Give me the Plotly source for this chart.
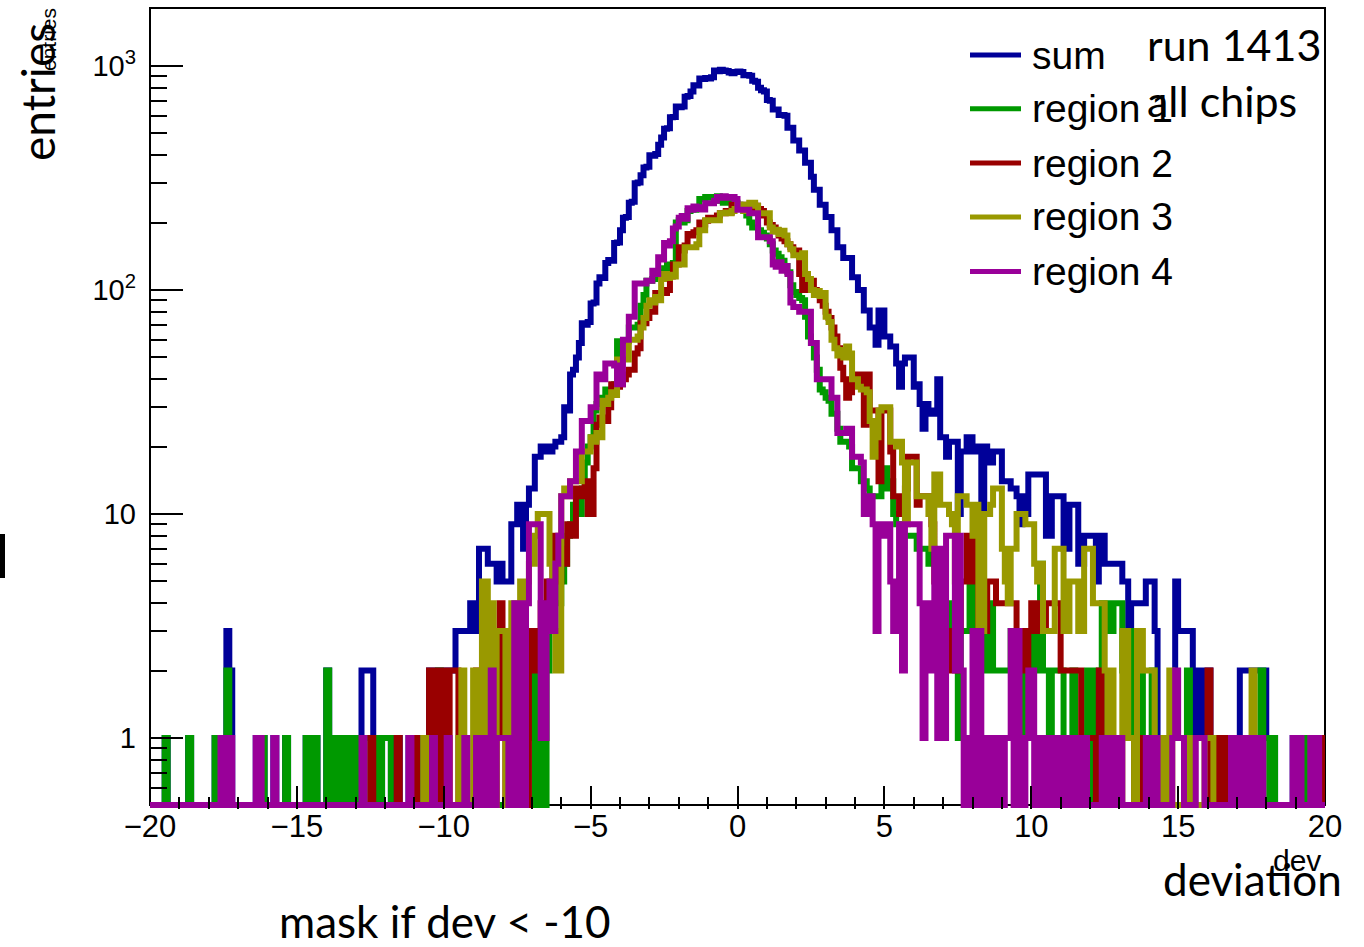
import plotly.graph_objects as go

# ---- binning: 400 bins of width 0.1 between -20 and 20 ----
X_MIN, X_MAX, N_BINS = -20.0, 20.0, 400
bin_edges = [round(X_MIN + (X_MAX - X_MIN) * k / N_BINS, 4) for k in range(N_BINS + 1)]

# ---- bin contents (entries per bin), left to right ----
sum_counts = [
    0, 0, 0, 0, 0, 1, 0, 0, 0, 0,
    0, 0, 0, 1, 0, 0, 0, 0, 0, 0,
    0, 0, 1, 0, 1, 0, 3, 2, 0, 0,
    0, 0, 0, 0, 0, 0, 1, 1, 1, 0,
    0, 0, 1, 0, 0, 0, 1, 0, 0, 0,
    0, 0, 0, 1, 0, 1, 1, 0, 0, 0,
    2, 0, 1, 0, 1, 1, 0, 1, 0, 1,
    1, 0, 2, 2, 2, 2, 1, 1, 0, 1,
    1, 1, 0, 0, 1, 0, 0, 0, 1, 1,
    1, 0, 0, 1, 0, 2, 2, 2, 2, 2,
    2, 2, 2, 2, 3, 3, 3, 3, 3, 4,
    3, 3, 7, 7, 7, 6, 6, 6, 5, 6,
    5, 5, 5, 9, 9, 11, 11, 7, 11, 13,
    13, 18, 18, 20, 20, 19, 19, 20, 21, 21,
    22, 30, 29, 42, 44, 50, 58, 71, 70, 72,
    87, 88, 107, 114, 113, 132, 136, 135, 162, 163,
    185, 210, 212, 245, 248, 300, 302, 325, 352, 355,
    400, 398, 405, 445, 480, 525, 528, 590, 592, 660,
    655, 660, 730, 735, 770, 820, 818, 880, 875, 885,
    880, 890, 955, 948, 962, 956, 950, 935, 928, 940,
    945, 940, 910, 912, 905, 860, 850, 800, 780, 770,
    705, 700, 640, 640, 605, 605, 600, 530, 530, 465,
    465, 420, 420, 370, 370, 320, 280, 280, 240, 240,
    212, 212, 185, 185, 155, 155, 139, 139, 139, 114,
    114, 100, 100, 81, 81, 68, 68, 57, 81, 81,
    62, 62, 56, 56, 47, 37, 47, 50, 50, 50,
    37, 38, 31, 24, 31, 28, 28, 29, 40, 22,
    22, 18, 21, 21, 21, 10, 19, 19, 22, 22,
    19, 19, 20, 10, 20, 17, 17, 19, 19, 19,
    14, 14, 14, 13, 13, 12, 9, 12, 10, 15,
    15, 15, 15, 15, 15, 8, 8, 12, 12, 12,
    12, 7, 7, 11, 11, 11, 6, 6, 8, 8,
    8, 8, 5, 8, 8, 6, 6, 6, 6, 6,
    6, 5, 5, 3, 4, 4, 4, 4, 4, 5,
    5, 5, 3, 1, 1, 1, 1, 1, 1, 5,
    3, 3, 3, 3, 3, 1, 1, 2, 1, 1,
    2, 1, 1, 1, 1, 1, 1, 1, 1, 1,
    1, 2, 2, 2, 2, 2, 2, 2, 2, 2,
    1, 1, 1, 0, 0, 0, 0, 0, 0, 1,
    1, 1, 0, 1, 0, 1, 1, 1, 0, 1,
]

region1_counts = [
    0, 0, 0, 0, 0, 1, 0, 0, 0, 0,
    0, 0, 0, 1, 0, 0, 0, 0, 0, 0,
    0, 0, 1, 0, 0, 0, 2, 0, 0, 0,
    0, 0, 0, 0, 0, 0, 0, 0, 1, 0,
    0, 0, 0, 0, 0, 0, 1, 0, 0, 0,
    0, 0, 0, 1, 0, 1, 1, 0, 0, 0,
    2, 0, 1, 0, 1, 1, 0, 1, 0, 1,
    1, 0, 1, 1, 1, 0, 1, 1, 0, 1,
    1, 1, 0, 0, 0, 0, 0, 0, 0, 0,
    0, 0, 0, 0, 0, 0, 0, 1, 2, 0,
    0, 0, 0, 0, 0, 0, 0, 0, 0, 0,
    0, 0, 0, 0, 0, 0, 0, 0, 0, 0,
    0, 0, 0, 1, 0, 0, 1, 0, 1, 1,
    2, 0, 2, 1, 0, 2, 3, 3, 4, 4,
    5, 6, 8, 9, 11, 12, 10, 13, 17, 20,
    22, 29, 31, 33, 33, 36, 36, 35, 38, 59,
    59, 59, 59, 68, 68, 68, 70, 85, 95, 110,
    110, 112, 115, 118, 120, 125, 130, 130, 132, 200,
    205, 200, 205, 225, 228, 228, 230, 255, 255, 260,
    260, 258, 255, 262, 250, 245, 248, 250, 240, 245,
    240, 235, 225, 215, 200, 190, 190, 185, 180, 175,
    170, 160, 150, 145, 140, 135, 128, 120, 105, 98,
    95, 92, 90, 76, 62, 58, 50, 44, 36, 35,
    33, 32, 28, 28, 24, 21, 21, 21, 20, 16,
    16, 16, 14, 14, 13, 12, 12, 12, 12, 16,
    16, 13, 14, 10, 9, 9, 8, 8, 8, 8,
    8, 7, 7, 7, 7, 6, 7, 6, 4, 4,
    4, 4, 3, 4, 4, 1, 3, 3, 3, 6,
    6, 3, 2, 2, 4, 2, 4, 2, 2, 2,
    2, 2, 2, 3, 3, 3, 1, 1, 3, 2,
    2, 3, 2, 6, 2, 2, 1, 2, 2, 2,
    2, 1, 0, 1, 2, 1, 0, 1, 1, 2,
    2, 0, 2, 0, 4, 4, 3, 3, 4, 4,
    4, 2, 1, 3, 2, 1, 1, 2, 0, 1,
    0, 2, 0, 0, 0, 0, 0, 0, 0, 0,
    0, 0, 0, 2, 0, 0, 0, 0, 0, 0,
    0, 0, 0, 0, 0, 1, 1, 0, 0, 0,
    0, 0, 0, 0, 0, 0, 0, 0, 2, 1,
    1, 0, 1, 0, 0, 0, 0, 0, 0, 0,
    0, 0, 0, 1, 0, 0, 0, 0, 0, 0,
]

region2_counts = [
    0, 0, 0, 0, 0, 0, 0, 0, 0, 0,
    0, 0, 0, 0, 0, 0, 0, 0, 0, 0,
    0, 0, 0, 0, 0, 0, 0, 0, 0, 0,
    0, 0, 0, 0, 0, 0, 0, 0, 0, 0,
    0, 0, 0, 0, 0, 0, 0, 0, 0, 0,
    0, 0, 0, 0, 0, 0, 0, 0, 0, 0,
    0, 0, 0, 0, 0, 0, 0, 0, 0, 0,
    0, 0, 0, 0, 0, 1, 0, 0, 0, 0,
    0, 0, 0, 0, 1, 0, 0, 0, 0, 1,
    1, 0, 0, 0, 0, 2, 2, 1, 0, 2,
    2, 0, 2, 2, 2, 0, 0, 0, 0, 0,
    0, 2, 0, 1, 0, 0, 1, 0, 1, 4,
    1, 0, 1, 2, 0, 2, 2, 3, 0, 3,
    3, 2, 3, 4, 3, 5, 5, 8, 6, 5,
    7, 6, 9, 8, 8, 13, 13, 12, 14, 10,
    10, 16, 25, 27, 26, 26, 30, 38, 38, 37,
    38, 40, 42, 44, 44, 52, 55, 71, 71, 75,
    80, 80, 97, 97, 97, 97, 100, 115, 130, 130,
    155, 150, 158, 178, 175, 181, 185, 200, 196, 204,
    210, 210, 210, 215, 220, 220, 225, 222, 240, 238,
    238, 240, 240, 235, 232, 240, 238, 230, 225, 215,
    200, 195, 190, 185, 175, 170, 165, 160, 155, 150,
    150, 118, 100, 105, 110, 110, 100, 95, 90, 85,
    80, 75, 68, 62, 55, 45, 40, 33, 35, 38,
    40, 42, 37, 25, 42, 29, 29, 29, 14, 29,
    29, 29, 19, 12, 12, 10, 12, 13, 18, 18,
    18, 11, 12, 12, 12, 12, 9, 5, 4, 4,
    4, 3, 2, 3, 2, 3, 5, 5, 8, 6,
    5, 8, 3, 3, 3, 5, 5, 5, 4, 4,
    4, 4, 4, 4, 4, 3, 2, 3, 2, 3,
    4, 3, 4, 3, 3, 4, 4, 4, 4, 4,
    2, 2, 2, 2, 2, 2, 2, 1, 1, 1,
    1, 1, 0, 2, 0, 0, 0, 0, 0, 0,
    0, 0, 0, 0, 0, 1, 1, 0, 1, 0,
    0, 0, 1, 0, 0, 0, 0, 0, 0, 0,
    0, 0, 0, 0, 0, 0, 0, 0, 0, 0,
    2, 0, 1, 0, 1, 0, 0, 1, 0, 0,
    0, 0, 0, 0, 0, 0, 0, 0, 0, 0,
    0, 0, 0, 0, 0, 0, 0, 0, 0, 0,
    0, 0, 0, 0, 0, 0, 0, 0, 0, 1,
]

region3_counts = [
    0, 0, 0, 0, 0, 0, 0, 0, 0, 0,
    0, 0, 0, 0, 0, 0, 0, 0, 0, 0,
    0, 0, 0, 0, 0, 0, 0, 0, 0, 0,
    0, 0, 0, 0, 0, 0, 0, 0, 0, 0,
    0, 0, 0, 0, 0, 0, 0, 0, 0, 0,
    0, 0, 0, 0, 0, 0, 0, 0, 0, 0,
    0, 0, 0, 0, 0, 0, 0, 0, 0, 0,
    0, 0, 0, 0, 0, 0, 0, 0, 0, 0,
    0, 0, 0, 0, 0, 0, 0, 0, 0, 0,
    0, 0, 0, 1, 0, 0, 0, 0, 0, 0,
    0, 0, 0, 0, 0, 1, 2, 0, 0, 0,
    2, 2, 0, 5, 5, 0, 4, 0, 3, 3,
    3, 0, 3, 4, 0, 4, 5, 0, 5, 6,
    6, 8, 10, 10, 10, 10, 6, 3, 2, 2,
    12, 13, 12, 14, 14, 14, 14, 19, 19, 19,
    22, 21, 23, 22, 32, 31, 33, 35, 34, 49,
    49, 49, 49, 60, 60, 60, 62, 68, 75, 85,
    90, 88, 93, 90, 112, 118, 113, 117, 115, 130,
    130, 130, 155, 155, 155, 155, 160, 185, 185, 205,
    205, 205, 205, 205, 220, 220, 222, 220, 225, 230,
    240, 232, 225, 240, 245, 245, 238, 220, 220, 220,
    220, 190, 182, 186, 178, 184, 175, 160, 152, 143,
    143, 140, 146, 118, 112, 100, 95, 99, 94, 97,
    76, 72, 60, 55, 51, 54, 50, 56, 52, 40,
    40, 37, 36, 36, 35, 26, 18, 22, 29, 30,
    30, 30, 21, 21, 20, 21, 17, 9, 17, 17,
    17, 12, 12, 12, 12, 10, 7, 15, 15, 11,
    11, 11, 10, 9, 5, 12, 12, 12, 11, 11,
    8, 11, 3, 3, 10, 10, 11, 13, 13, 13,
    7, 5, 4, 7, 7, 10, 10, 10, 9, 9,
    9, 6, 5, 6, 3, 3, 3, 3, 7, 7,
    7, 3, 3, 5, 5, 5, 3, 3, 7, 7,
    7, 4, 4, 4, 4, 2, 1, 2, 0, 1,
    0, 3, 3, 1, 1, 0, 3, 3, 2, 2,
    2, 2, 0, 1, 1, 0, 1, 2, 0, 0,
    0, 0, 1, 0, 1, 0, 0, 0, 0, 1,
    1, 1, 0, 0, 0, 0, 0, 0, 0, 0,
    0, 0, 0, 0, 0, 2, 1, 0, 0, 0,
    0, 0, 0, 0, 0, 0, 0, 0, 0, 0,
    0, 0, 0, 0, 0, 0, 0, 0, 0, 0,
]

region4_counts = [
    0, 0, 0, 0, 0, 0, 0, 0, 0, 0,
    0, 0, 0, 0, 0, 0, 0, 0, 0, 0,
    0, 0, 0, 0, 1, 0, 1, 1, 0, 0,
    0, 0, 0, 0, 0, 0, 1, 1, 0, 0,
    0, 0, 1, 0, 0, 0, 0, 0, 0, 0,
    0, 0, 0, 0, 0, 0, 0, 0, 0, 0,
    0, 0, 0, 0, 0, 0, 0, 0, 0, 0,
    0, 0, 1, 0, 0, 0, 0, 0, 0, 0,
    0, 0, 0, 0, 0, 0, 0, 0, 1, 0,
    0, 0, 0, 0, 0, 0, 1, 0, 0, 0,
    0, 1, 0, 0, 0, 0, 0, 1, 0, 0,
    0, 1, 0, 1, 0, 0, 2, 0, 1, 1,
    1, 1, 0, 1, 4, 0, 4, 0, 4, 9,
    9, 9, 9, 1, 1, 4, 5, 3, 6, 8,
    12, 12, 12, 14, 14, 19, 19, 26, 26, 26,
    30, 30, 42, 42, 40, 47, 47, 47, 46, 38,
    38, 60, 60, 76, 76, 107, 107, 107, 107, 110,
    110, 122, 118, 140, 137, 162, 158, 165, 188, 192,
    210, 214, 208, 232, 228, 236, 230, 234, 229, 244,
    244, 244, 250, 260, 258, 262, 260, 258, 260, 255,
    228, 228, 228, 228, 220, 220, 220, 172, 172, 172,
    172, 165, 130, 127, 133, 122, 128, 118, 88, 84,
    84, 80, 80, 80, 80, 58, 58, 40, 40, 40,
    40, 40, 33, 33, 23, 23, 23, 24, 24, 18,
    18, 18, 17, 10, 10, 12, 9, 3, 9, 9,
    8, 9, 5, 3, 3, 9, 2, 9, 9, 9,
    9, 9, 4, 1, 4, 2, 2, 7, 1, 7,
    1, 8, 8, 8, 2, 8, 2, 0, 1, 0,
    3, 0, 3, 1, 0, 1, 0, 1, 0, 1,
    0, 1, 1, 3, 0, 3, 1, 0, 1, 2,
    2, 0, 1, 0, 1, 1, 0, 1, 0, 1,
    0, 1, 0, 1, 1, 0, 1, 0, 1, 0,
    0, 0, 0, 0, 1, 0, 1, 1, 0, 1,
    1, 0, 0, 0, 0, 0, 0, 0, 0, 1,
    0, 1, 1, 0, 0, 0, 0, 0, 1, 2,
    1, 1, 0, 0, 0, 0, 1, 1, 1, 0,
    0, 0, 0, 0, 0, 0, 0, 0, 1, 0,
    1, 1, 0, 1, 1, 0, 0, 1, 1, 0,
    0, 0, 0, 0, 0, 0, 0, 0, 0, 1,
    0, 1, 0, 0, 0, 1, 0, 1, 0, 0,
]

series = [
    ("sum", sum_counts, "#000099"),
    ("region 1", region1_counts, "#009900"),
    ("region 2", region2_counts, "#990000"),
    ("region 3", region3_counts, "#999900"),
    ("region 4", region4_counts, "#990099"),
]

y_tick_values = [1, 10, 100, 1000]
y_tick_labels = ["1", "10", "10<sup>2</sup>", "10<sup>3</sup>"]
x_tick_values = [-20, -15, -10, -5, 0, 5, 10, 15, 20]

# ---- canvas geometry (pixels) ----
W, H = 1364, 947
PLOT_L, PLOT_R, PLOT_T, PLOT_B = 150, 1325, 8, 809
Y_LOG_MIN, Y_LOG_MAX = -0.317, 3.259
EMPTY_LEVEL = 0.502          # empty bins are drawn down at the frame bottom
FRAME_BOTTOM = 805


def px_x(p):
    return (p - PLOT_L) / (PLOT_R - PLOT_L)


def px_y(p):
    return (PLOT_B - p) / (PLOT_B - PLOT_T)


def step_trace(name, counts, color):
    ys = [c if c > 0 else EMPTY_LEVEL for c in counts]
    return go.Scatter(
        x=bin_edges, y=ys + [ys[-1]], mode="lines", name=name,
        line=dict(shape="hv", color=color, width=6),
        showlegend=False, hoverinfo="skip",
    )


fig = go.Figure([step_trace(n, c, col) for n, c, col in series])

minor_y = [v * 10 ** d for d in (-1, 0, 1, 2, 3) for v in range(2, 10)]
minor_y = [v for v in minor_y if 0.5 < v < 1800 and v not in y_tick_values]

AXIS_FONT = "Liberation Sans, Arial, sans-serif"
SLIDE_FONT = "Lato, Carlito, sans-serif"

fig.update_xaxes(
    range=[X_MIN, X_MAX], showgrid=False, zeroline=False, showline=False,
    tickvals=x_tick_values, ticks="inside", ticklen=23, tickwidth=1.5,
    tickcolor="black", ticklabelstandoff=-4,
    tickfont=dict(family=AXIS_FONT, size=31, color="black"),
    minor=dict(dtick=1, ticks="inside", ticklen=12, tickwidth=1.5, tickcolor="black", showgrid=False),
)
fig.update_yaxes(
    type="log", range=[Y_LOG_MIN, Y_LOG_MAX], showgrid=False, zeroline=False, showline=False,
    tickvals=y_tick_values, ticktext=y_tick_labels, ticks="inside", ticklen=33,
    tickwidth=1.5, tickcolor="black", ticklabelstandoff=13,
    tickfont=dict(family=AXIS_FONT, size=29, color="black"),
    minor=dict(tickvals=minor_y, ticks="inside", ticklen=17, tickwidth=1.5, tickcolor="black", showgrid=False),
)

shapes = [
    # frame around the plotting area
    dict(type="rect", xref="paper", yref="paper", x0=0, x1=1, y0=px_y(FRAME_BOTTOM), y1=1,
         line=dict(color="black", width=2), layer="below"),
    # small vertical bar at the left edge
    dict(type="rect", xref="paper", yref="paper", x0=px_x(0), x1=px_x(5), y0=px_y(578), y1=px_y(534),
         fillcolor="black", line=dict(width=0)),
]

legend_rows = [55, 108.7, 163, 217, 271.6]
annotations = []
for (name, _, color), yrow in zip(series, legend_rows):
    shapes.append(dict(type="line", xref="paper", yref="paper", x0=px_x(970), x1=px_x(1021),
                       y0=px_y(yrow), y1=px_y(yrow), line=dict(color=color, width=5)))
    annotations.append(dict(text=name, x=px_x(1030), y=px_y(yrow), xanchor="left", yanchor="middle",
                            font=dict(family=AXIS_FONT, size=39, color="black")))


def note(text, x, y, size, family, xanchor="center", angle=0):
    annotations.append(dict(text=text, x=px_x(x), y=px_y(y), xanchor=xanchor, yanchor="middle",
                            textangle=angle, font=dict(family=family, size=size, color="black")))


note("run 1413", 1145, 44, 43, SLIDE_FONT, xanchor="left")
note("all chips", 1145, 101, 43, SLIDE_FONT, xanchor="left")
note("entries", 37, 92, 46, SLIDE_FONT, angle=-90)
note("entries", 49, 40, 21, AXIS_FONT, angle=-90)
note("dev", 1297, 860, 30, AXIS_FONT)
note("deviation", 1252, 879, 44, SLIDE_FONT)
note("mask if dev &lt; -10", 277, 921, 44, SLIDE_FONT, xanchor="left")

for a in annotations:
    a.update(xref="paper", yref="paper", showarrow=False)

fig.update_layout(
    width=W, height=H, autosize=False,
    margin=dict(l=PLOT_L, r=W - PLOT_R, t=PLOT_T, b=H - PLOT_B, pad=0),
    paper_bgcolor="white", plot_bgcolor="rgba(0,0,0,0)",
    shapes=shapes, annotations=annotations, showlegend=False,
)

fig.write_html("out.html", post_script="document.body.style.margin='0';")
